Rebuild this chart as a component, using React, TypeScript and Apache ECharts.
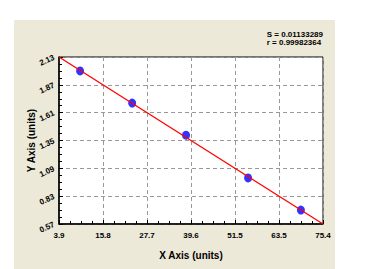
import React, { useEffect, useRef } from "react";
import * as echarts from "echarts";

const xPoints = [9.6, 23.7, 38.3, 55.1, 69.4];
const yPoints = [2.0, 1.7, 1.4, 1.0, 0.7];
const fitLine = [
  [3.9, 2.13],
  [75.4, 0.57],
];
const xTickValues = [3.9, 15.8, 27.7, 39.6, 51.5, 63.5, 75.4];
const xTickLabels = ["3.9", "15.8", "27.7", "39.6", "51.5", "63.5", "75.4"];
const yTickLabels = ["0.57", "0.83", "1.09", "1.35", "1.61", "1.87", "2.13"];
const statsLines = ["S = 0.01133289", "r = 0.99982364"];

export default function App() {
  const ref = useRef<HTMLDivElement>(null);
  useEffect(() => {
    if (!ref.current) return;
    const chart = echarts.init(ref.current, undefined, { renderer: "svg" });
    const font = "'Liberation Sans', Arial, sans-serif";
    const xMin = xTickValues[0];
    const xMax = xTickValues[xTickValues.length - 1];
    const yMin = parseFloat(yTickLabels[0]);
    const yMax = parseFloat(yTickLabels[yTickLabels.length - 1]);
    const nearestX = (v: number) => {
      let best = 0;
      xTickValues.forEach((t, i) => {
        if (Math.abs(t - v) < Math.abs(xTickValues[best] - v)) best = i;
      });
      return xTickLabels[best];
    };
    const nearestY = (v: number) => {
      let best = 0;
      yTickLabels.forEach((t, i) => {
        if (Math.abs(parseFloat(t) - v) < Math.abs(parseFloat(yTickLabels[best]) - v)) best = i;
      });
      return yTickLabels[best];
    };
    chart.setOption({
      animation: false,
      backgroundColor: "#ffffff",
      graphic: [
        {
          type: "rect",
          z: -10,
          silent: true,
          shape: { x: 14, y: 20, width: 321, height: 249 },
          style: { fill: "#ECE9D8" },
        },
        {
          type: "text",
          right: 56,
          top: 30,
          style: {
            text: statsLines.join("\n"),
            fill: "#000",
            font: `bold 8px ${font}`,
            lineHeight: 8,
            align: "right",
          },
        },
      ],
      grid: {
        left: 59,
        top: 57,
        right: 56,
        bottom: 45,
        show: true,
        backgroundColor: "#ffffff",
        borderColor: "#000",
        borderWidth: 1,
      },
      xAxis: {
        type: "value",
        min: xMin,
        max: xMax,
        interval: (xMax - xMin) / 6,
        name: "X Axis (units)",
        nameLocation: "middle",
        nameGap: 26,
        nameMoveOverlap: false,
        nameTextStyle: { fontFamily: font, fontWeight: "bold", fontSize: 10, color: "#000" },
        axisLine: { lineStyle: { color: "#000", width: 1.5 } },
        axisTick: { show: true, inside: true, length: 4, lineStyle: { color: "#000" } },
        minorTick: { show: true, splitNumber: 4, length: 3, lineStyle: { color: "#000" } },
        axisLabel: {
          formatter: (v: number) => nearestX(v),
          fontFamily: font,
          fontWeight: "bold",
          fontSize: 8,
          color: "#000",
          margin: 7,
        },
        splitLine: { show: true, lineStyle: { color: "#999", type: [4, 3], width: 1 } },
      },
      yAxis: {
        type: "value",
        min: yMin,
        max: yMax,
        interval: 0.26,
        name: "Y Axis (units)",
        nameLocation: "middle",
        nameGap: 23,
        nameMoveOverlap: false,
        nameTextStyle: { fontFamily: font, fontWeight: "bold", fontSize: 10, color: "#000" },
        axisLine: { show: true, lineStyle: { color: "#000", width: 1.5 } },
        axisTick: { show: true, inside: true, length: 4, lineStyle: { color: "#000" } },
        minorTick: { show: true, splitNumber: 4, length: 3, lineStyle: { color: "#000" } },
        axisLabel: {
          formatter: (v: number) => nearestY(v),
          fontFamily: font,
          fontWeight: "bold",
          fontSize: 8,
          color: "#000",
          rotate: 25,
          margin: 5,
        },
        splitLine: { show: true, lineStyle: { color: "#999", type: [4, 3], width: 1 } },
      },
      series: [
        {
          type: "scatter",
          data: xPoints.map((x, i) => [x, yPoints[i]]),
          symbol: "circle",
          symbolSize: [8, 9],
          itemStyle: { color: "#0000ff" },
          z: 2,
        },
        {
          type: "line",
          data: fitLine,
          showSymbol: false,
          symbol: "none",
          lineStyle: { color: "#ff0000", width: 1.3 },
          z: 3,
        },
      ],
    });
    return () => chart.dispose();
  }, []);
  return (
    <div
      ref={ref}
      style={{ position: "absolute", left: 0, top: 0, width: 379, height: 269 }}
    />
  );
}
